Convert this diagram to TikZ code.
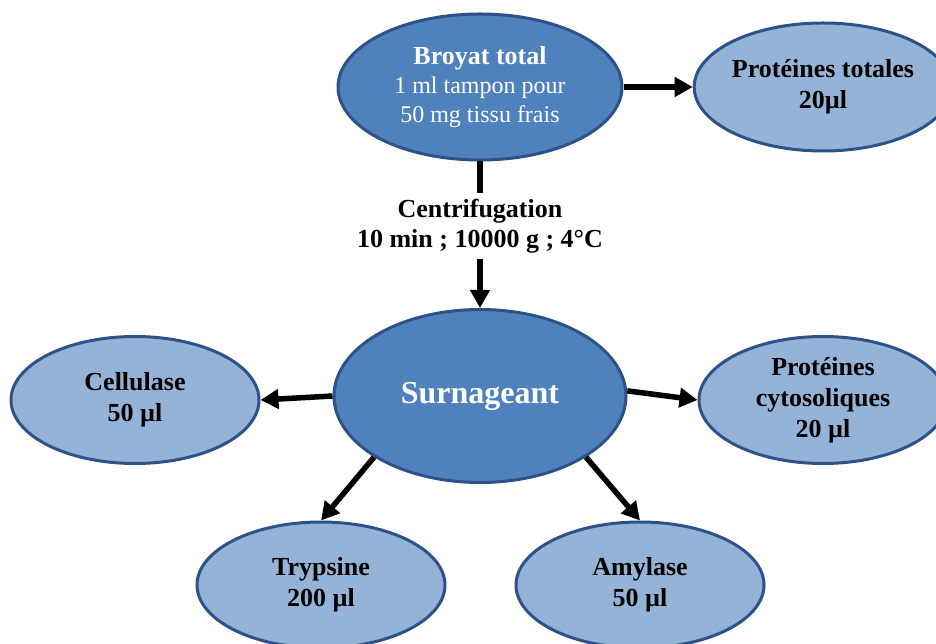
\documentclass[tikz,border=0pt]{standalone}
\usepackage{fontspec}
\setmainfont{Liberation Serif}
\usetikzlibrary{shapes.geometric,arrows.meta}
\definecolor{darkfill}{RGB}{79,129,189}
\definecolor{lightfill}{RGB}{149,179,215}
\definecolor{edge}{RGB}{44,82,135}
\tikzset{
  base/.style={ellipse, draw=edge, line width=3pt, inner sep=0pt, align=center},
  mainell/.style={base, fill=darkfill, text=white},
  subell/.style={base, fill=lightfill, text=black, minimum width=248pt, minimum height=127pt,
     font=\fontsize{26}{31}\selectfont\bfseries},
  arr/.style={line width=5.5pt, -{Triangle[length=18pt,width=19pt]}},
  plain/.style={line width=6pt}
}
\begin{document}
\begin{tikzpicture}[x=1pt,y=1pt]
\useasboundingbox (0,0) rectangle (936,643);
\node[mainell, minimum width=284pt, minimum height=146pt, font=\fontsize{24}{29}\selectfont] (b) at (480,556)
  {{\fontsize{26}{29}\selectfont\bfseries Broyat total}\\
   1 ml tampon pour\\
   50 mg tissu frais};
\node[subell, minimum height=128pt] (pt) at (823,556) {Protéines totales\\20µl};
\node[align=center, font=\fontsize{26}{30}\selectfont\bfseries, inner xsep=0pt, inner ysep=6pt] (c) at (480,417)
  {Centrifugation\\10 min ; 10000 g ; 4°C};
\node[mainell, minimum width=292pt, minimum height=173pt, font=\fontsize{32}{36}\selectfont\bfseries] (s) at (480,247) {Surnageant};
\node[subell] (cel) at (135,243) {Cellulase\\50 µl};
\node[subell] (cyt) at (823,243) {Protéines\\cytosoliques\\20 µl};
\node[subell, minimum height=126pt] (tr) at (321,58) {Trypsine\\200 µl};
\node[subell, minimum height=126pt] (am) at (640,58) {Amylase\\50 µl};
\draw[arr] (b.east) -- (pt.west);
\draw[plain] (b.south) -- (c.north);
\draw[arr] (c.south) -- (s.north);
\draw[arr] (s.west) -- (cel.east);
\draw[arr] (s.2) -- (cyt.west);
\draw[arr] (s.210) -- (tr.north);
\draw[arr] (s.330) -- (am.north);
\end{tikzpicture}
\end{document}
